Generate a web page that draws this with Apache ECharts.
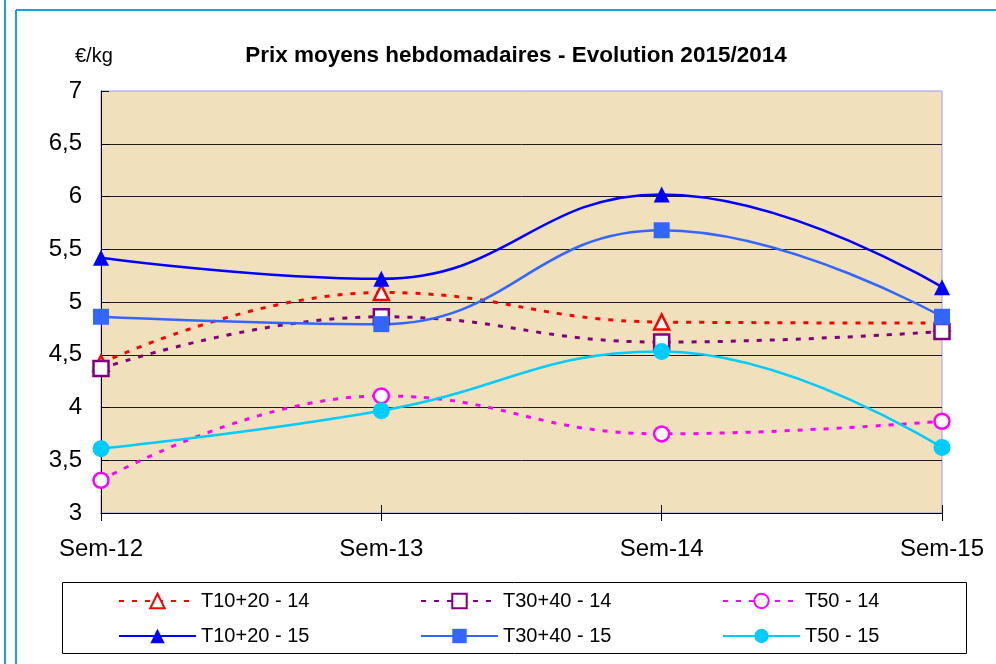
<!DOCTYPE html>
<html>
<head>
<meta charset="utf-8">
<script src="https://cdn.jsdelivr.net/npm/echarts@6/dist/echarts.min.js"></script>
<style>
html,body{margin:0;padding:0;background:#fff;}
#chart{width:996px;height:664px;}
</style>
</head>
<body>
<div id="chart"></div>
<script>
const categories = ['Sem-12', 'Sem-13', 'Sem-14', 'Sem-15'];
const t1020_14 = [4.42, 5.09, 4.81, 4.80];
const t3040_14 = [4.37, 4.86, 4.62, 4.72];
const t50_14   = [3.31, 4.11, 3.75, 3.87];
const t1020_15 = [5.42, 5.22, 6.02, 5.14];
const t3040_15 = [4.86, 4.79, 5.68, 4.86];
const t50_15   = [3.61, 3.97, 4.53, 3.62];
const seriesNames = ['T10+20 - 14', 'T30+40 - 14', 'T50 - 14', 'T10+20 - 15', 'T30+40 - 15', 'T50 - 15'];
const yTicks = [3, 3.5, 4, 4.5, 5, 5.5, 6, 6.5, 7];

const FONT = '"Liberation Sans", Arial, sans-serif';
const chart = echarts.init(document.getElementById('chart'), null, {renderer: 'canvas'});

function dashed(name, data, color, symbol) {
  return {
    name: name, type: 'line', data: data, smooth: 0.45,
    symbol: symbol, symbolSize: 15,
    lineStyle: {color: color, width: 3, type: [5, 8]},
    itemStyle: {color: '#ffffff', borderColor: color, borderWidth: 2.5}
  };
}
function solid(name, data, color, symbol, size) {
  return {
    name: name, type: 'line', data: data, smooth: 0.45,
    symbol: symbol, symbolSize: size,
    lineStyle: {color: color, width: 2.5, type: 'solid'},
    itemStyle: {color: color, borderWidth: 0}
  };
}

const legendPos = [
  [118, 591], [420, 591], [722, 591],
  [118, 626], [420, 626], [722, 626]
];
const legends = seriesNames.map((n, i) => ({
  data: [n], left: legendPos[i][0], top: legendPos[i][1],
  itemWidth: 77, itemHeight: 18, itemGap: 0, padding: 0,
  textStyle: {fontFamily: FONT, fontSize: 20, color: '#000'},
  selectedMode: false
}));

chart.setOption({
  animation: false,
  backgroundColor: '#ffffff',
  title: [
    {text: 'Prix moyens hebdomadaires - Evolution 2015/2014', left: 511, top: 39, textAlign: 'center',
     textStyle: {fontFamily: FONT, fontSize: 22.5, fontWeight: 'bold', color: '#000'}},
    {text: '€/kg', left: 70, top: 41,
     textStyle: {fontFamily: FONT, fontSize: 20, fontWeight: 'normal', color: '#000'}}
  ],
  legend: legends,
  grid: {left: 101, right: 54, top: 91, bottom: 151, show: true,
         backgroundColor: '#f0e0bb', borderColor: '#9999ff', borderWidth: 1},
  xAxis: [
    {type: 'category', data: categories, boundaryGap: false,
     axisLine: {show: true, lineStyle: {color: '#000', width: 1}},
     axisTick: {show: true, inside: false, length: 8, lineStyle: {color: '#000'}},
     axisLabel: {fontFamily: FONT, fontSize: 24, color: '#000', margin: 24},
     splitLine: {show: false}},
    {type: 'category', data: categories, boundaryGap: false, position: 'bottom',
     axisLine: {show: false},
     axisTick: {show: true, inside: true, length: 8, lineStyle: {color: '#000'}},
     axisLabel: {show: false}, splitLine: {show: false}}
  ],
  yAxis: {
    type: 'value', min: 3, max: 7, interval: 0.5,
    axisLine: {show: true, lineStyle: {color: '#000', width: 1}},
    axisTick: {show: true, inside: true, length: 8, lineStyle: {color: '#000'}},
    axisLabel: {fontFamily: FONT, fontSize: 24, color: '#000', margin: 19,
                formatter: v => (yTicks.indexOf(v) >= 0 ? String(v).replace('.', ',') : '')},
    splitLine: {show: true, showMaxLine: false, lineStyle: {color: '#1e1e1e', width: 1}}
  },
  series: [
    dashed(seriesNames[0], t1020_14, '#ff0000', 'triangle'),
    dashed(seriesNames[1], t3040_14, '#800080', 'rect'),
    dashed(seriesNames[2], t50_14, '#ff00ff', 'circle'),
    solid(seriesNames[3], t1020_15, '#0000ff', 'triangle', 16),
    solid(seriesNames[4], t3040_15, '#3366ff', 'rect', 16),
    solid(seriesNames[5], t50_15, '#00ccff', 'circle', 17)
  ],
  graphic: [
    {type: 'line', shape: {x1: 5, y1: 0, x2: 5, y2: 664}, style: {stroke: '#1ba1e2', lineWidth: 2}},
    {type: 'line', shape: {x1: 16, y1: 10, x2: 16, y2: 664}, style: {stroke: '#1ba1e2', lineWidth: 2}},
    {type: 'line', shape: {x1: 16, y1: 10, x2: 996, y2: 10}, style: {stroke: '#1ba1e2', lineWidth: 2}},
    {type: 'rect', shape: {x: 62.5, y: 582.5, width: 904, height: 71}, style: {fill: 'none', stroke: '#000', lineWidth: 1}, z: -1}
  ]
});
</script>
</body>
</html>
